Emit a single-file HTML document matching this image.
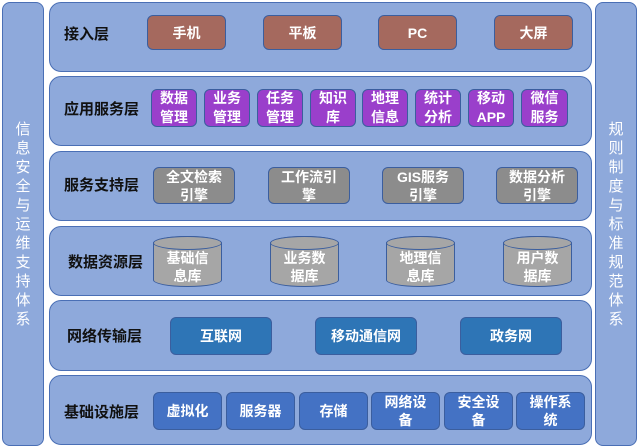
<!DOCTYPE html>
<html><head><meta charset="utf-8"><style>
body{margin:0;width:639px;height:448px;background:#fff;position:relative;overflow:hidden;font-family:"Liberation Sans","Noto Sans CJK SC",sans-serif}
.a{position:absolute;box-sizing:border-box}
.side{background:#8EA9DB;border:1.5px solid #4A6FB5;border-radius:8px;color:#fff;font-size:15px;line-height:19px;text-align:center;display:flex;align-items:center;justify-content:center}
.side span{width:16px;word-break:break-all}
.row{background:#8EA9DB;border:1.5px solid #4A6FB5;border-radius:12px}
.lab{font-weight:bold;font-size:15px;color:#111}
.b{display:flex;align-items:center;justify-content:center;text-align:center;color:#fff;font-size:14px;font-weight:bold;line-height:18px;border:1px solid #3B5E9E;border-radius:6px}
.br{background:#A5695E}
.pu{background:#9A3FCB;line-height:19px}
.gr{background:#8C8C8C}
.db{background:#2E75B6}
.ib{background:#4472C4}
.cy{background:#A6A6A6;border:1px solid #3B5E9E;border-radius:34px/7px;color:#fff;font-size:14px;font-weight:bold;line-height:18px;text-align:center;padding-top:12px}
.cy::before{content:"";position:absolute;left:-1px;right:-1px;top:-1px;height:14px;border:1px solid #3B5E9E;border-radius:50%;background:#A6A6A6;box-sizing:border-box}
.cy span{position:relative}
</style></head><body>
<div class="a side" style="left:2px;top:2px;width:42px;height:444px"><span>信息安全与运维支持体系</span></div>
<div class="a side" style="left:595px;top:2px;width:42px;height:444px"><span>规则制度与标准规范体系</span></div>

<div class="a row" style="left:49px;top:2px;width:543px;height:70px"></div>
<div class="a row" style="left:49px;top:76px;width:543px;height:70px"></div>
<div class="a row" style="left:49px;top:151px;width:543px;height:70px"></div>
<div class="a row" style="left:49px;top:226px;width:543px;height:70px"></div>
<div class="a row" style="left:49px;top:300px;width:543px;height:71px"></div>
<div class="a row" style="left:49px;top:375px;width:543px;height:70px"></div>

<div class="a lab" style="left:64px;top:23px">接入层</div>
<div class="a lab" style="left:64px;top:98px">应用服务层</div>
<div class="a lab" style="left:64px;top:174px">服务支持层</div>
<div class="a lab" style="left:68px;top:251px">数据资源层</div>
<div class="a lab" style="left:67px;top:325px">网络传输层</div>
<div class="a lab" style="left:64px;top:401px">基础设施层</div>

<div class="a b br" style="left:147px;top:15px;width:79px;height:35px">手机</div>
<div class="a b br" style="left:263px;top:15px;width:79px;height:35px">平板</div>
<div class="a b br" style="left:378px;top:15px;width:79px;height:35px">PC</div>
<div class="a b br" style="left:494px;top:15px;width:79px;height:35px">大屏</div>

<div class="a b pu" style="left:151px;top:89px;width:46px;height:38px">数据<br>管理</div>
<div class="a b pu" style="left:204px;top:89px;width:46px;height:38px">业务<br>管理</div>
<div class="a b pu" style="left:257px;top:89px;width:46px;height:38px">任务<br>管理</div>
<div class="a b pu" style="left:310px;top:89px;width:46px;height:38px">知识<br>库</div>
<div class="a b pu" style="left:362px;top:89px;width:46px;height:38px">地理<br>信息</div>
<div class="a b pu" style="left:415px;top:89px;width:46px;height:38px">统计<br>分析</div>
<div class="a b pu" style="left:468px;top:89px;width:46px;height:38px">移动<br>APP</div>
<div class="a b pu" style="left:521px;top:89px;width:47px;height:38px">微信<br>服务</div>

<div class="a b gr" style="left:153px;top:167px;width:82px;height:37px">全文检索<br>引擎</div>
<div class="a b gr" style="left:268px;top:167px;width:82px;height:37px">工作流引<br>擎</div>
<div class="a b gr" style="left:382px;top:167px;width:82px;height:37px">GIS服务<br>引擎</div>
<div class="a b gr" style="left:496px;top:167px;width:82px;height:37px">数据分析<br>引擎</div>

<div class="a cy" style="left:153px;top:236px;width:69px;height:51px"><span>基础信<br>息库</span></div>
<div class="a cy" style="left:270px;top:236px;width:69px;height:51px"><span>业务数<br>据库</span></div>
<div class="a cy" style="left:386px;top:236px;width:69px;height:51px"><span>地理信<br>息库</span></div>
<div class="a cy" style="left:503px;top:236px;width:69px;height:51px"><span>用户数<br>据库</span></div>

<div class="a b db" style="left:170px;top:317px;width:102px;height:38px">互联网</div>
<div class="a b db" style="left:315px;top:317px;width:102px;height:38px">移动通信网</div>
<div class="a b db" style="left:460px;top:317px;width:102px;height:38px">政务网</div>

<div class="a b ib" style="left:153px;top:392px;width:69px;height:38px">虚拟化</div>
<div class="a b ib" style="left:226px;top:392px;width:69px;height:38px">服务器</div>
<div class="a b ib" style="left:299px;top:392px;width:69px;height:38px">存储</div>
<div class="a b ib" style="left:371px;top:392px;width:69px;height:38px">网络设<br>备</div>
<div class="a b ib" style="left:444px;top:392px;width:69px;height:38px">安全设<br>备</div>
<div class="a b ib" style="left:516px;top:392px;width:69px;height:38px">操作系<br>统</div>
</body></html>
